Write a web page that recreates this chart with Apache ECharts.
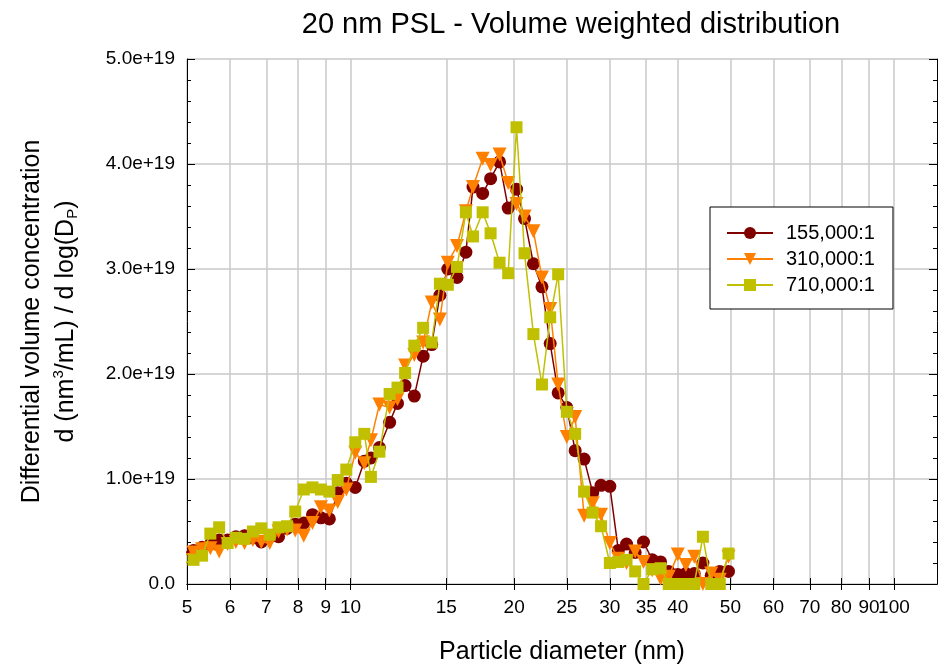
<!DOCTYPE html>
<html><head><meta charset="utf-8">
<script src="https://cdn.jsdelivr.net/npm/echarts@6/dist/echarts.min.js"></script>
<style>html,body{margin:0;padding:0;background:#fff}#c{width:945px;height:665px}</style>
</head><body><div id="c"></div>
<script>
// Particle diameter channels (nm)
const diameters = [4.96,5.14,5.33,5.52,5.73,5.94,6.15,6.38,6.61,6.85,
  7.10,7.37,7.64,7.91,8.20,8.51,8.82,9.14,9.47,9.82,
  10.2,10.6,10.9,11.3,11.8,12.2,12.6,13.1,13.6,14.1,
  14.6,15.1,15.7,16.3,16.8,17.5,18.1,18.8,19.5,20.2,
  20.9,21.7,22.5,23.3,24.1,25.0,25.9,26.9,27.9,28.9,
  30.0,31.1,32.2,33.4,34.6,35.9,37.2,38.5,40.0,41.4,
  42.9,44.5,46.1,47.8,49.6];
// dV/dlogDp in units of 1e19 nm^3/mL
const dil155 = [0.30,0.32,0.35,0.38,0.42,0.42,0.45,0.46,0.44,0.40,
  0.45,0.45,0.53,0.57,0.58,0.66,0.63,0.62,0.87,0.96,
  0.92,1.17,1.20,1.30,1.54,1.72,1.89,1.79,2.17,2.28,
  2.75,3.00,2.92,3.16,3.78,3.72,3.86,4.02,3.58,3.76,
  3.48,3.05,2.83,2.29,1.82,1.68,1.27,1.19,0.87,0.94,
  0.93,0.32,0.38,0.30,0.40,0.23,0.21,0.12,0.09,0.10,
  0.10,0.20,0.08,0.12,0.12];
const dil310 = [0.28,0.30,0.33,0.34,0.31,0.38,0.40,0.39,0.42,0.40,
  0.39,0.50,0.52,0.51,0.46,0.58,0.73,0.70,0.78,0.90,
  1.25,1.15,1.37,1.71,1.68,1.76,2.08,2.18,2.30,2.68,
  2.52,3.06,3.22,3.55,3.78,4.05,3.99,4.09,3.82,3.62,
  3.50,3.36,2.92,2.62,1.90,1.40,1.59,0.65,0.77,0.66,
  0.39,0.24,0.20,0.31,0.21,0.13,0.05,0.07,0.28,0.18,
  0.26,0.00,0.10,0.04,0.26];
const dil710 = [0.20,0.23,0.27,0.48,0.54,0.39,0.44,0.43,0.50,0.53,
  0.47,0.54,0.55,0.69,0.90,0.92,0.90,0.88,0.99,1.09,
  1.35,1.43,1.02,1.26,1.81,1.87,2.01,2.27,2.44,2.30,
  2.86,2.85,3.02,3.54,3.31,3.54,3.34,3.06,2.96,4.35,
  3.15,2.38,1.90,2.54,2.95,1.64,1.43,0.88,0.68,0.55,
  0.20,0.21,0.23,0.12,0.00,0.14,0.15,0.00,0.00,0.00,
  0.00,0.45,0.00,0.00,0.29];
const seriesNames = ['155,000:1','310,000:1','710,000:1'];
const xTickValues = [5,6,7,8,9,10,15,20,25,30,35,40,50,60,70,80,90,100];
const xLabelValuesMain = [5,6,7,8,9,10,15,20,25,30,35,40,50,60,70,80,90];
const xLabelValuesEnd = [100];

const FONT = '"Liberation Sans", Arial, Helvetica, sans-serif';
const pairs = vals => diameters.map((d, i) => [d, vals[i]]);

const chart = echarts.init(document.getElementById('c'), null, {renderer: 'canvas'});
const axisBlack = {show: true, lineStyle: {color: '#000', width: 1}};
const gridGray = {show: true, lineStyle: {color: '#c8c8c8', width: 1.5, type: 'solid'}};
const xLabelStyle = {margin: 14, color: '#000', hideOverlap: false, interval: 0,
  showMinLabel: true, showMaxLabel: true, fontSize: 19, fontFamily: FONT, formatter: v => String(v)};

const option = {
  animation: false,
  backgroundColor: '#fff',
  title: {
    text: '20 nm PSL - Volume weighted distribution',
    left: 566, top: 5, textAlign: 'center',
    textStyle: {fontSize: 29, fontWeight: 'normal', color: '#000', fontFamily: FONT}
  },
  grid: {left: 187, top: 59, right: 8, bottom: 81, containLabel: false, outerBoundsMode: 'none'},
  legend: {
    orient: 'vertical', left: 710, top: 207,
    padding: [16, 18, 14, 16],
    itemWidth: 46, itemHeight: 15, itemGap: 6,
    borderColor: '#000', borderWidth: 1, borderRadius: 0,
    backgroundColor: '#fff',
    textStyle: {fontSize: 20, fontFamily: FONT, color: '#000', padding: [0, 0, 0, 8], lineHeight: 20},
    data: seriesNames
  },
  xAxis: [{
    type: 'log', logBase: 10, min: 5, max: 120, position: 'bottom',
    axisLine: axisBlack,
    axisTick: {show: true, inside: true, length: 6, lineStyle: {color: '#000'}, customValues: xTickValues},
    minorTick: {show: false},
    axisLabel: Object.assign({show: true, customValues: xLabelValuesMain}, xLabelStyle),
    splitLine: gridGray,
    name: 'Particle diameter (nm)', nameLocation: 'middle', nameGap: 56,
    nameTextStyle: {fontSize: 25, color: '#000', fontFamily: FONT}
  }, {
    type: 'log', logBase: 10, min: 5, max: 120, position: 'top',
    axisLine: axisBlack,
    axisTick: {show: true, inside: true, length: 6, lineStyle: {color: '#000'}, customValues: xTickValues},
    axisLabel: {show: false, customValues: xTickValues},
    splitLine: {show: false}
  }, {
    type: 'log', logBase: 10, min: 5, max: 120, position: 'bottom', offset: 0,
    axisLine: {show: false},
    axisTick: {show: false, customValues: xLabelValuesEnd},
    axisLabel: Object.assign({show: true, customValues: xLabelValuesEnd}, xLabelStyle),
    splitLine: {show: false}
  }],
  yAxis: [{
    type: 'value', min: 0, max: 5, interval: 1, position: 'left',
    axisLine: axisBlack,
    axisTick: {show: true, inside: true, length: 8, lineStyle: {color: '#000'}},
    minorTick: {show: true, splitNumber: 5, length: 4, lineStyle: {color: '#000'}},
    axisLabel: {margin: 12, color: '#000', fontSize: 19, fontFamily: FONT,
      showMinLabel: true, showMaxLabel: true,
      formatter: v => v === 0 ? '0.0' : v.toFixed(1) + 'e+19'},
    splitLine: gridGray,
    name: '{a|Differential volume concentration}\n{a|d (nm}{sup|3}{a|/mL) / d log(D}{sub|P}{a|)}',
    nameLocation: 'middle', nameRotate: 90, nameGap: 104,
    nameTextStyle: {
      color: '#000', fontFamily: FONT, fontSize: 25,
      rich: {
        a: {fontSize: 25, lineHeight: 34, fontFamily: FONT, color: '#000'},
        sup: {fontSize: 15, lineHeight: 34, fontFamily: FONT, color: '#000', padding: [0, 0, 14, 0]},
        sub: {fontSize: 15, lineHeight: 34, fontFamily: FONT, color: '#000', padding: [14, 0, 0, 0]}
      }
    }
  }, {
    type: 'value', min: 0, max: 5, interval: 1, position: 'right',
    axisLine: axisBlack,
    axisTick: {show: true, inside: true, length: 8, lineStyle: {color: '#000'}},
    minorTick: {show: true, splitNumber: 5, length: 4, lineStyle: {color: '#000'}},
    axisLabel: {show: false},
    splitLine: {show: false}
  }],
  series: [{
    name: seriesNames[0], type: 'line', data: pairs(dil155),
    symbol: 'circle', symbolSize: 13, clip: true,
    lineStyle: {width: 1.5, color: '#800000'}, itemStyle: {color: '#800000'},
    emphasis: {disabled: true}, z: 2
  }, {
    name: seriesNames[1], type: 'line', data: pairs(dil310),
    symbol: 'triangle', symbolRotate: 180, symbolSize: 14, clip: true,
    lineStyle: {width: 1.5, color: '#ff8000'}, itemStyle: {color: '#ff8000'},
    emphasis: {disabled: true}, z: 3
  }, {
    name: seriesNames[2], type: 'line', data: pairs(dil710),
    symbol: 'rect', symbolSize: 12, clip: true,
    lineStyle: {width: 1.5, color: '#c0c000'}, itemStyle: {color: '#c0c000'},
    emphasis: {disabled: true}, z: 4
  }]
};
chart.setOption(option);
</script>
</body></html>
